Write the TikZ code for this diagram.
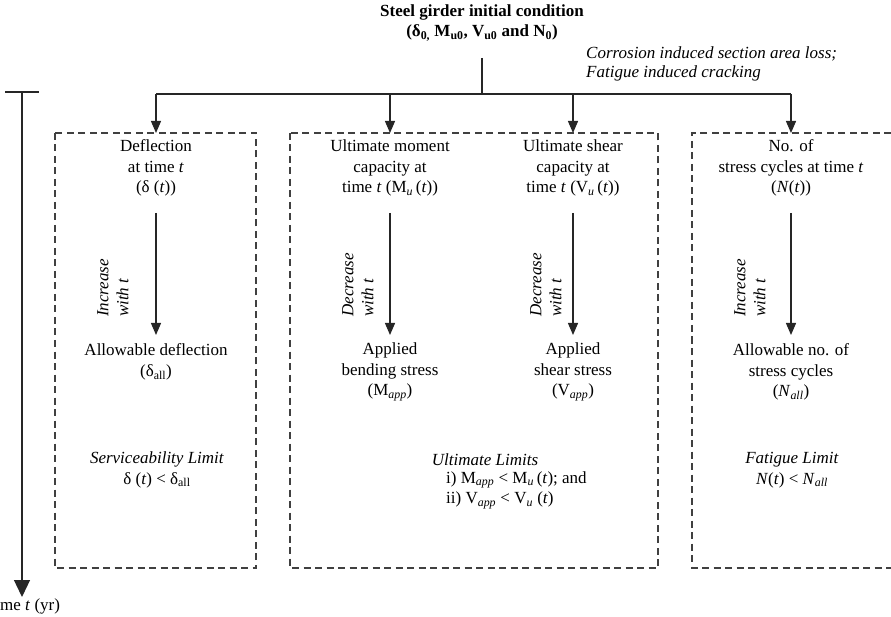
\documentclass[tikz,border=0pt]{standalone}
\usepackage{fontspec}
\setmainfont{Liberation Serif}
\usetikzlibrary{arrows.meta}
\begin{document}
\begin{tikzpicture}[x=1pt,y=-1pt,
  every node/.style={inner sep=0pt, align=center, font=\fontsize{17}{20.5}\selectfont},
  line/.style={line width=1.3pt, black!85},
  arr/.style={line, -{Triangle[length=12pt,width=10pt]}},
  bigarr/.style={line, -{Triangle[length=17pt,width=16pt]}},
  dbox/.style={dash pattern=on 7pt off 4.5pt, line width=1.1pt, black!75},
  rot/.style={rotate=90, anchor=west, align=left, font=\fontsize{17}{20}\selectfont\itshape},
  itnote/.style={anchor=west, align=left, font=\fontsize{17}{19}\selectfont\itshape},
]
\useasboundingbox (0,0) rectangle (891,617);

% title
\node[font=\fontsize{17}{20}\selectfont\bfseries] (title) at (482,23)
  {Steel girder initial condition\\(δ\textsubscript{0,} M\textsubscript{u0}, V\textsubscript{u0} and N\textsubscript{0})};
\node[itnote] (note) at (586,64) {Corrosion induced section area loss;\\Fatigue induced cracking};

% distribution lines
\coordinate (top) at (482,58);
\coordinate (hub) at (482,94);
\coordinate (j1) at (156,94);
\coordinate (j2) at (390,94);
\coordinate (j3) at (573,94);
\coordinate (j4) at (791,94);
\coordinate (b1) at (156,133);
\coordinate (b2) at (390,133);
\coordinate (b3) at (573,133);
\coordinate (b4) at (791,133);
\draw[line] (top) -- (hub);
\draw[line] (j1) -- (j4);
\draw[arr] (j1) -- (b1);
\draw[arr] (j2) -- (b2);
\draw[arr] (j3) -- (b3);
\draw[arr] (j4) -- (b4);

% time axis
\coordinate (t0) at (22,92);
\coordinate (t1) at (22,597);
\coordinate (tk1) at (5,92);
\coordinate (tk2) at (39,92);
\draw[line] (tk1) -- (tk2);
\draw[bigarr] (t0) -- (t1);
\node[anchor=west] (tlabel) at (0,606) {me \textit{t} (yr)};

% dashed boxes
\draw[dbox] (55,133) rectangle (256,568);
\draw[dbox] (290,133) rectangle (658,568);
\draw[dbox] (891,133) -- (692,133) -- (692,568) -- (891,568);

% upper texts
\node (defl) at (156,168) {Deflection\\at time \textit{t}\\(δ (\textit{t}))};
\node (mu) at (390,168) {Ultimate moment\\capacity at\\time \textit{t} (M\textsubscript{\textit{u}}\,(\textit{t}))};
\node (vu) at (573,168) {Ultimate shear\\capacity at\\time \textit{t} (V\textsubscript{\textit{u}}\,(\textit{t}))};
\node (nt) at (791,168) {No. of\\stress cycles at time \textit{t}\\(\textit{N}(\textit{t}))};

% lower texts
\node (dall) at (156,362) {Allowable deflection\\(δ\textsubscript{all})};
\node (mapp) at (390,372) {Applied\\bending stress\\(M\textsubscript{\textit{app}})};
\node (vapp) at (573,372) {Applied\\shear stress\\(V\textsubscript{\textit{app}})};
\node (nall) at (791,372) {Allowable no. of\\stress cycles\\(\textit{N}\textsubscript{\textit{all}})};

% inner arrows
\coordinate (s1) at (156,213); \coordinate (e1) at (156,335);
\coordinate (s2) at (390,213); \coordinate (e2) at (390,335);
\coordinate (s3) at (573,213); \coordinate (e3) at (573,335);
\coordinate (s4) at (791,213); \coordinate (e4) at (791,335);
\draw[arr] (s1) -- (e1);
\draw[arr] (s2) -- (e2);
\draw[arr] (s3) -- (e3);
\draw[arr] (s4) -- (e4);

% rotated labels
\node[rot] (r1) at (113,317) {Increase\\with \textit{t}};
\node[rot] (r2) at (358,317) {Decrease\\with \textit{t}};
\node[rot] (r3) at (546,317) {Decrease\\with \textit{t}};
\node[rot] (r4) at (750,317) {Increase\\with \textit{t}};

% limits
\node (sl) at (157,470) {\textit{Serviceability Limit}\\δ (\textit{t}) < δ\textsubscript{all}};
\node (ult) at (485,460) {\textit{Ultimate Limits}};
\node[anchor=west, align=left] (ulc) at (446,490)
  {i) M\textsubscript{\textit{app}} < M\textsubscript{\textit{u}}\,(\textit{t}); and\\ii) V\textsubscript{\textit{app}} < V\textsubscript{\textit{u}} (\textit{t})};
\node (fl) at (792,470) {\textit{Fatigue Limit}\\\textit{N}(\textit{t}) < \textit{N}\textsubscript{\textit{all}}};
\end{tikzpicture}
\end{document}
